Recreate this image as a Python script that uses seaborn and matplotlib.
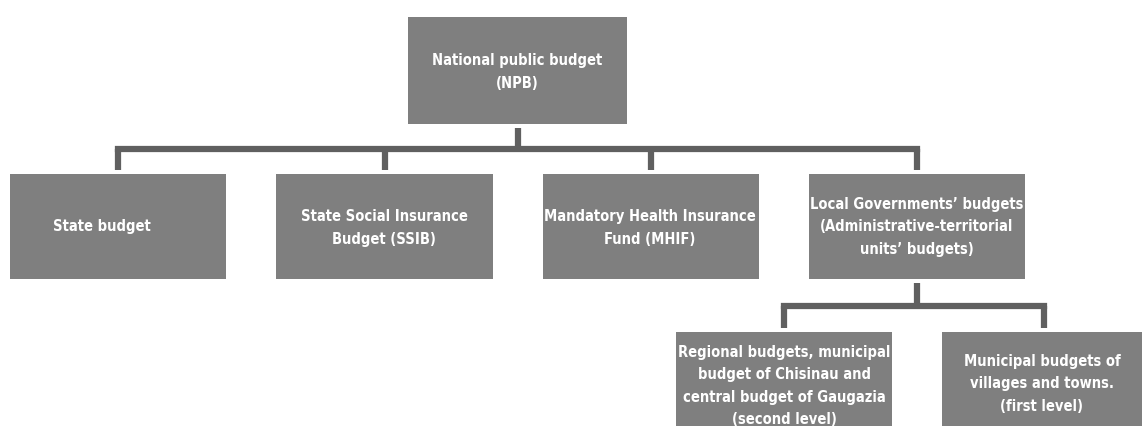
import matplotlib
matplotlib.use("Agg")
import matplotlib.pyplot as plt
from matplotlib.patches import Rectangle
import seaborn as sns

sns.set_style("white")
plt.rcParams['font.family'] = ['DejaVu Sans']

# box labels, one entry per node of the budget structure
labels = [
    "National public budget\n(NPB)",
    "State budget",
    "State Social Insurance\nBudget (SSIB)",
    "Mandatory Health Insurance\nFund (MHIF)",
    "Local Governments\u2019 budgets\n(Administrative-territorial\nunits\u2019 budgets)",
    "Regional budgets, municipal\nbudget of Chisinau and\ncentral budget of Gaugazia\n(second level)",
    "Municipal budgets of\nvillages and towns.\n(first level)",
]
# layout in pixels: left, top, right, bottom
boxes = [
    (408, 18, 627, 125),
    (10, 175, 226, 280),
    (276, 175, 493, 280),
    (543, 175, 759, 280),
    (809, 175, 1025, 280),
    (676, 333, 892, 430),
    (942, 333, 1145, 430),
]
text_xy = [
    (517, 72), (102, 227), (384, 228), (650, 228), (917, 227), (784, 386), (1042, 384),
]
spacing = [1.65, 1.6, 1.7, 1.7, 1.65, 1.6, 1.65]
# parent -> children links
links = [(0, [1, 2, 3, 4]), (4, [5, 6])]

box_color = "#7f7f7f"
line_color = "#606060"

fig = plt.figure(figsize=(11.42, 4.27), dpi=100)
ax = fig.add_axes([0, 0, 1, 1])
ax.set_xlim(0, 1142)
ax.set_ylim(427, 0)
ax.axis("off")

for (l, t, r, b), lab, (tx, ty), ls in zip(boxes, labels, text_xy, spacing):
    ax.add_patch(Rectangle((l, t), r - l, b - t, facecolor=box_color, edgecolor="none"))
    ax.text(tx, ty, lab, color="white", fontsize=10.5, fontweight="bold",
            fontstretch="condensed", ha="center", va="center", linespacing=ls)

for parent, kids in links:
    pl, pt, pr, pb = boxes[parent]
    px = (pl + pr) / 2
    kid_x = [(boxes[k][0] + boxes[k][2]) / 2 for k in kids]
    kid_top = boxes[kids[0]][1]
    bar_y = pb + (kid_top - pb) * 0.5
    ax.plot([px, px], [pb + 4, bar_y], color=line_color, lw=4.5, solid_capstyle="butt")
    ax.plot([min(kid_x), max(kid_x)], [bar_y, bar_y], color=line_color, lw=4.5,
            solid_capstyle="projecting")
    for kx in kid_x:
        ax.plot([kx, kx], [bar_y, kid_top - 4], color=line_color, lw=4.5, solid_capstyle="butt")

fig.savefig("out.png", dpi=100)
